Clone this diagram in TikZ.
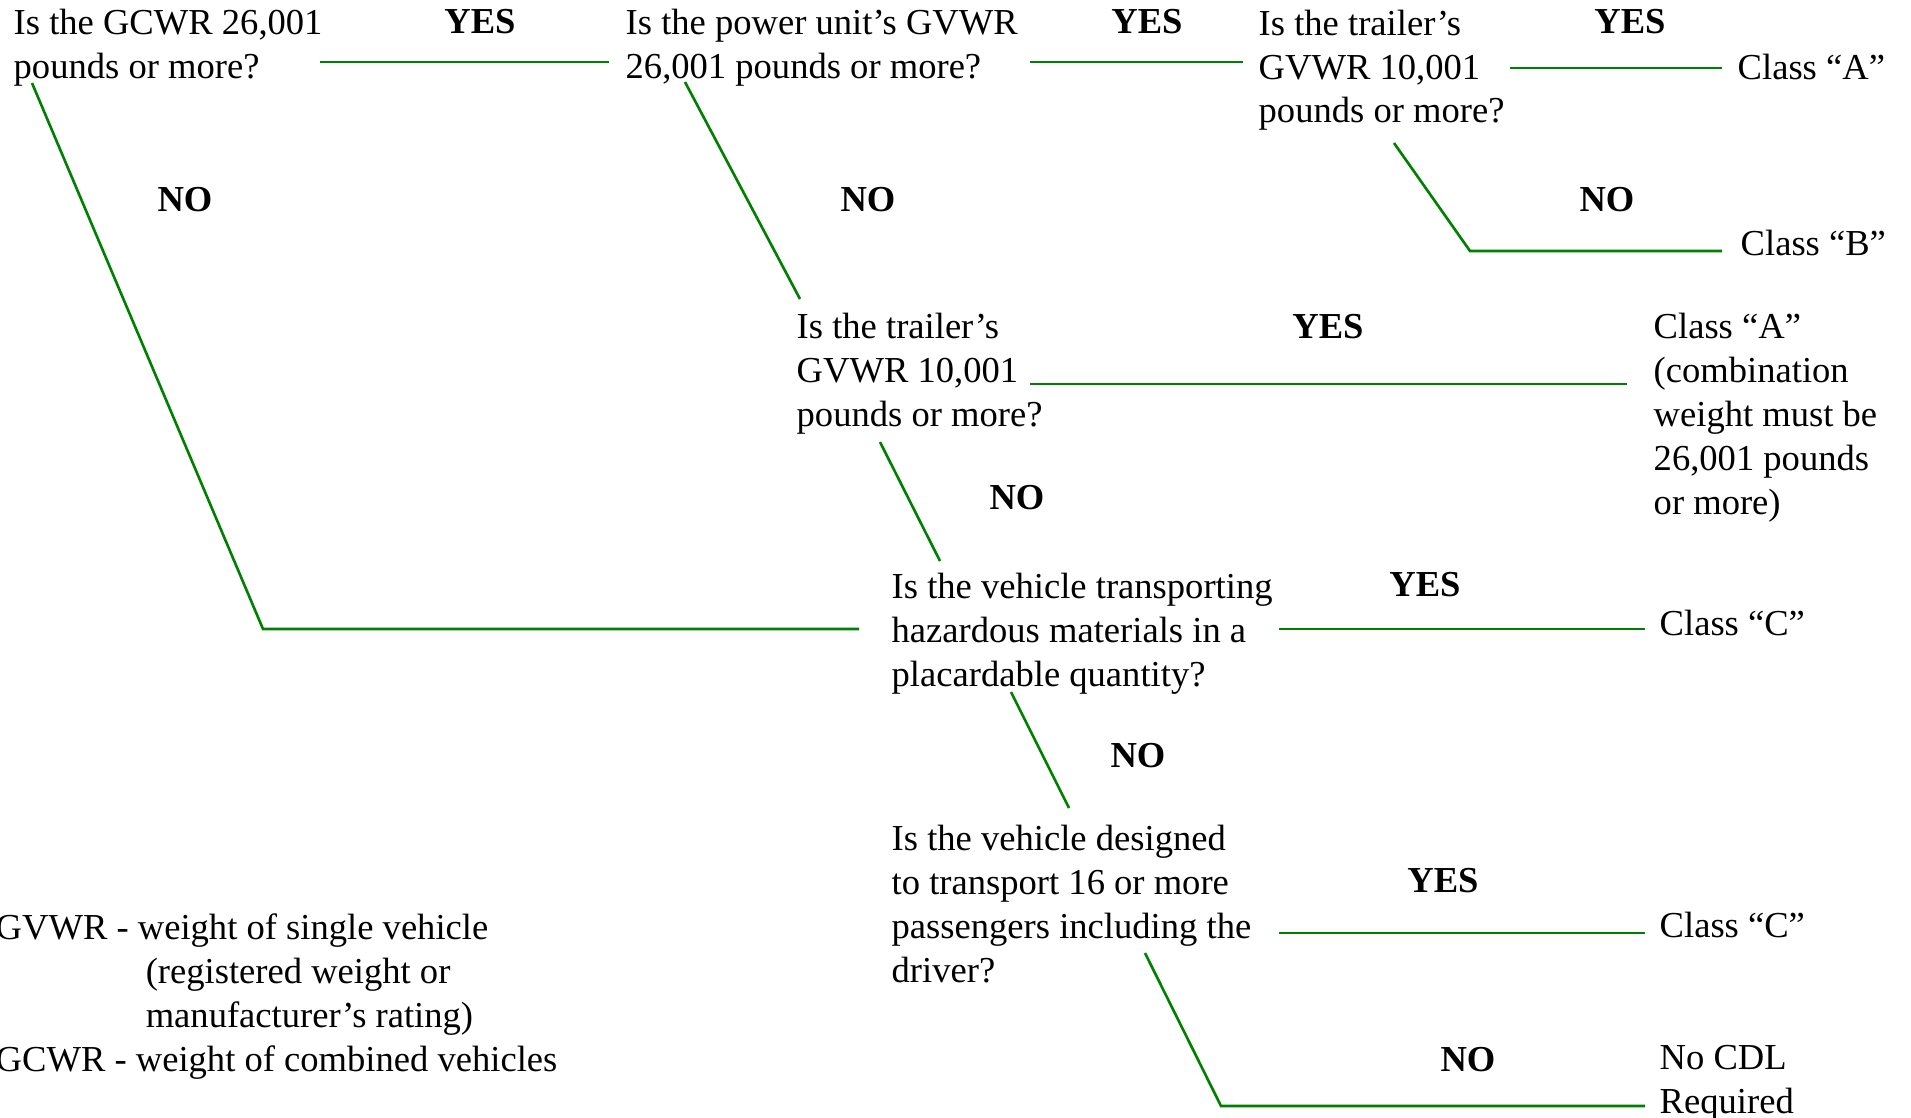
\documentclass[tikz,border=0pt]{standalone}
\usepackage{fontspec}
\setmainfont{Liberation Serif}
\definecolor{wiregreen}{RGB}{0,128,0}

\begin{document}
\begin{tikzpicture}[x=0.01cm, y=-0.01cm,
    txt/.style={anchor=base west, align=left, inner sep=0pt,
      font=\fontsize{10.4pt}{12.5pt}\selectfont},
    ans/.style={anchor=base, inner sep=0pt,
      font=\fontsize{10.4pt}{12.5pt}\selectfont\bfseries},
    wire/.style={draw=wiregreen, line width=0.75pt}]
    \useasboundingbox (0,0) rectangle (1911,1118);

    % questions (placed at the baseline of their last line)
    \node[txt] (gcwr) at (13,78) {Is the GCWR 26,001\\pounds or more?};
    \node[txt] (power) at (625,78) {Is the power unit's GVWR\\26,001 pounds or more?};
    \node[txt] (trailA) at (1258,123) {Is the trailer's\\GVWR 10,001\\pounds or more?};
    \node[txt] (trailB) at (796,426) {Is the trailer's\\GVWR 10,001\\pounds or more?};
    \node[txt] (hazmat) at (891,686) {Is the vehicle transporting\\hazardous materials in a\\placardable quantity?};
    \node[txt] (bus) at (891,982) {Is the vehicle designed\\to transport 16 or more\\passengers including the\\driver?};

    % results
    \node[txt] (classA) at (1737,79) {Class ``A''};
    \node[txt] (classB) at (1740,255) {Class ``B''};
    \node[txt] (classAc) at (1653,514) {Class ``A''\\(combination\\weight must be\\26,001 pounds\\or more)};
    \node[txt] (classC) at (1659,635) {Class ``C''};
    \node[txt] (classCb) at (1659,937) {Class ``C''};
    \node[txt] (nocdl) at (1659,1113) {No CDL\\Required};

    % legend
    \node[txt] (legend) at (-5,1071) {GVWR - weight of single vehicle\\
      \hspace*{1.5cm}(registered weight or\\
      \hspace*{1.5cm}manufacturer's rating)\\
      GCWR - weight of combined vehicles};

    % YES / NO
    \node[ans] (y1) at (480,34) {YES};
    \node[ans] (y2) at (1147,34) {YES};
    \node[ans] (y3) at (1630,34) {YES};
    \node[ans] (y4) at (1328,338) {YES};
    \node[ans] (y5) at (1425,596) {YES};
    \node[ans] (y6) at (1443,892) {YES};
    \node[ans] (n1) at (185,211) {NO};
    \node[ans] (n2) at (868,211) {NO};
    \node[ans] (n3) at (1607,211) {NO};
    \node[ans] (n4) at (1017,509) {NO};
    \node[ans] (n5) at (1138,767) {NO};
    \node[ans] (n6) at (1468,1071) {NO};

    % line ends
    \coordinate (gcwrY) at (320,62);
    \coordinate (powerI) at (609,62);
    \coordinate (powerY) at (1030,62);
    \coordinate (trailAI) at (1243,62);
    \coordinate (trailAY) at (1510,68);
    \coordinate (classAI) at (1722,68);
    \coordinate (trailAN) at (1394,143);
    \coordinate (kneeB) at (1470,251);
    \coordinate (classBI) at (1722,251);
    \coordinate (gcwrN) at (32,83);
    \coordinate (kneeH) at (263,629);
    \coordinate (hazmatI) at (859,629);
    \coordinate (powerN) at (685,82);
    \coordinate (trailBI) at (800,299);
    \coordinate (trailBY) at (1030,384);
    \coordinate (classAcI) at (1627,384);
    \coordinate (trailBN) at (880,442);
    \coordinate (hazmatT) at (940,561);
    \coordinate (hazmatY) at (1279,629);
    \coordinate (classCI) at (1645,629);
    \coordinate (hazmatN) at (1011,692);
    \coordinate (busT) at (1069,808);
    \coordinate (busY) at (1279,933);
    \coordinate (classCbI) at (1645,933);
    \coordinate (busN) at (1145,953);
    \coordinate (kneeN) at (1221,1106);
    \coordinate (nocdlI) at (1645,1106);

    % connectors
    \draw[wire] (gcwrY) -- (powerI);
    \draw[wire] (powerY) -- (trailAI);
    \draw[wire] (trailAY) -- (classAI);
    \draw[wire] (trailAN) -- (kneeB) -- (classBI);
    \draw[wire] (gcwrN) -- (kneeH) -- (hazmatI);
    \draw[wire] (powerN) -- (trailBI);
    \draw[wire] (trailBY) -- (classAcI);
    \draw[wire] (trailBN) -- (hazmatT);
    \draw[wire] (hazmatY) -- (classCI);
    \draw[wire] (hazmatN) -- (busT);
    \draw[wire] (busY) -- (classCbI);
    \draw[wire] (busN) -- (kneeN) -- (nocdlI);
\end{tikzpicture}
\end{document}
